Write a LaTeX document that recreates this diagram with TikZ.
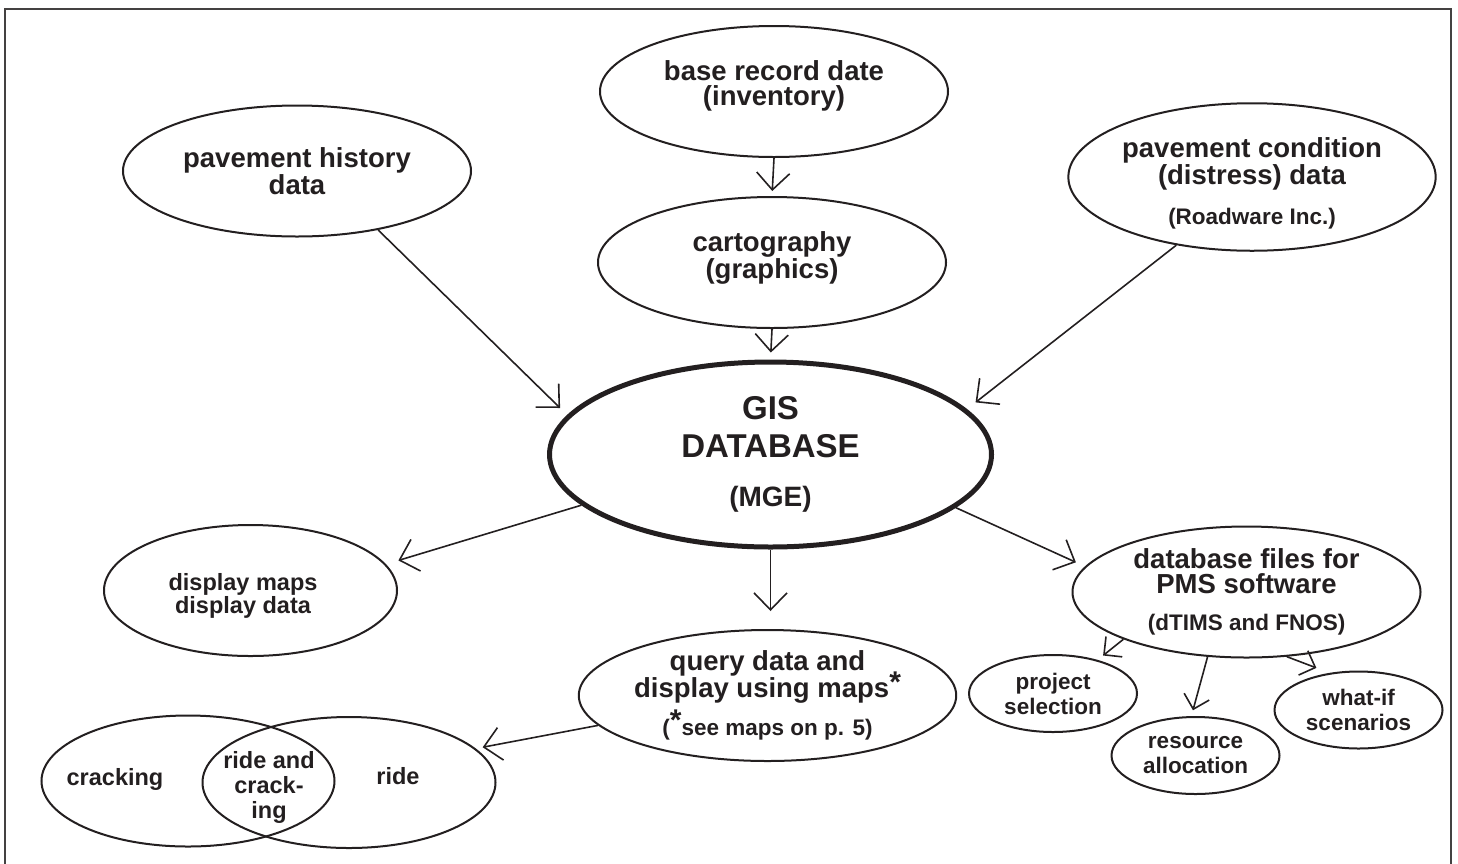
\documentclass[tikz,border=0pt]{standalone}
\usepackage{fontspec}
\setmainfont{Liberation Sans}
\usepackage{xcolor}
\usepackage{tikz}
\usetikzlibrary{arrows.meta}
\usetikzlibrary{shapes.geometric}
\definecolor{ink}{HTML}{231F20}
\tikzset{
    oval/.style = {ellipse, draw=ink, line width=2pt, align=center, inner sep=0pt, text=ink},
    big_oval/.style = {oval, minimum width=348pt, minimum height=131pt, font=\fontsize{27.5}{25}\selectfont\bfseries},
    mid_oval/.style = {oval, minimum width=293pt, minimum height=131pt, font=\fontsize{23.5}{23}\selectfont\bfseries},
    small_oval/.style = {oval, minimum width=168pt, minimum height=77pt, font=\fontsize{22.5}{25}\selectfont\bfseries},
    gis_oval/.style = {oval, line width=5pt, minimum width=442pt, minimum height=185pt, font=\fontsize{33}{38}\selectfont\bfseries},
    label_text/.style = {align=center, inner sep=0pt, text=ink, font=\fontsize{23.5}{25}\selectfont\bfseries},
    flow/.style = {draw=ink, line width=1.6pt, ->},
    short_flow/.style = {flow, -{Straight Barb[length=13pt,width=26pt]}}
}
\newcommand{\bigstar}{\smash{\raisebox{5pt}{\fontsize{30}{25}\selectfont*}}}
\newcommand{\smalltxt}[1]{{\fontsize{22.5}{25}\selectfont #1}}
% invisible struts to nudge text inside the ovals
\newcommand{\padtop}[1]{\rule{0pt}{#1}}
\newcommand{\padbot}[1]{\rule[-#1]{0pt}{#1}}

\begin{document}
\begin{tikzpicture}
    [x=1pt, y=-1pt,
    >={Straight Barb[length=17pt,width=33pt]}]

    \useasboundingbox (0,0) rectangle (1458,863);
    \draw[draw=ink!85, line width=2.5pt] (5,9) rectangle (1451,880);

    % sources
    \node[big_oval] (base) at (774,91.5) {base record date\\(inventory)\padbot{17pt}};
    \node[big_oval] (cart) at (772,262.5) {cartography\\(graphics)\padbot{15pt}};
    \node[big_oval] (hist) at (297,171) {pavement history\\data};
    \node[big_oval] (cond) at (1252,177) {\padtop{33pt}pavement condition\\(distress) data\\[15pt]\smalltxt{(Roadware Inc.)}};

    \node[gis_oval] (gis) at (770.5,454.5) {GIS\\DATABASE\\[11pt]{\fontsize{28}{25}\selectfont(MGE)}};

    % outputs
    \node[mid_oval] (disp) at (250.5,590.5) {\padtop{28pt}display maps\hspace*{15pt}\\display data\hspace*{15pt}};
    \node[big_oval] (query) at (767.5,695.5) {query data and\\display using maps\bigstar\\[13pt]\smalltxt{(\bigstar see maps on p. 5)}};
    \node[big_oval] (pms) at (1246.5,592) {database files for\\PMS software\\[12pt]\smalltxt{(dTIMS and FNOS)}};

    \node[small_oval] (proj) at (1053,693.5) {project\\selection};
    \node[small_oval] (res) at (1195.5,755.5) {resource\\allocation};
    \node[small_oval] (whatif) at (1358.5,710) {what-if\\scenarios};

    % overlapping ovals
    \node[mid_oval] (crack) at (188,781) {};
    \node[mid_oval] (ride) at (349,782.5) {};
    \node[label_text] (cracktext) at (115,779) {cracking};
    \node[label_text] (ridetext) at (398,776.5) {ride};
    \node[label_text] (both) at (269,787) {ride and\\crack-\\ing};

    \draw[flow, shorten >=5pt] (base.south) -- (cart.north);
    \draw[flow, shorten >=7pt] (cart.south) -- (gis.north);
    \draw[flow, shorten >=10pt] (hist.-36) -- (gis.169);
    \draw[flow, shorten >=11pt] (cond.-138) -- (gis.13);
    \draw[flow, shorten >=13pt] (gis.-165) -- (disp.11);
    \draw[flow, shorten >=18pt] (gis.south) -- (gis.south |- query.north);
    \draw[flow, shorten >=10pt] (gis.-16) -- (pms.171);
    \draw[flow, shorten >=7pt] (query.-170) -- (ride.15);
    \draw[short_flow, shorten >=7pt] (pms.-159) -- (proj.37);
    \draw[short_flow, shorten >=6pt] (pms.-121) -- (res.96);
    \draw[short_flow, shorten >=14pt] (pms.-58) -- (whatif.128);
\end{tikzpicture}
\end{document}
